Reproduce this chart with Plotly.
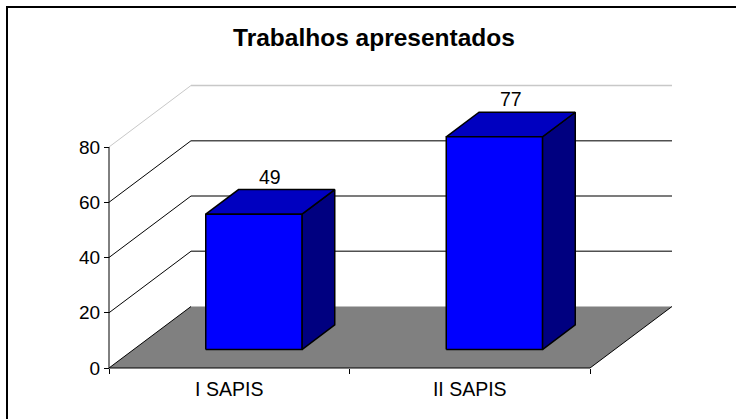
import plotly.graph_objects as go

# ---- data ----
categories = ["I SAPIS", "II SAPIS"]
values = [49, 77]
y_ticks = [0, 20, 40, 60, 80]
title_text = "Trabalhos apresentados"

# ---- style / geometry (not data) ----
W, H = 736, 419
ORIGIN_PX = (109, 368)          # pixel position of (x=0, y=0)
PX_PER_X = 240.5                # pixels per category slot
PX_PER_Y = 221 / 80             # pixels per value unit
DX = 82 / PX_PER_X              # depth offset in x-units (full depth)
DY = 61.5 / PX_PER_Y            # depth offset in value units (full depth)
BAR_HALF = 0.2
Z0, Z1 = 0.3, 0.7
FONT = "Liberation Sans, Arial, sans-serif"
FRONT, TOP, SIDE = "#0000FF", "#0000C0", "#000080"

n = len(categories)
ymax = y_ticks[-1]

x_range = [-ORIGIN_PX[0] / PX_PER_X, (W - ORIGIN_PX[0]) / PX_PER_X]
y_range = [-(H - ORIGIN_PX[1]) / PX_PER_Y, ORIGIN_PX[1] / PX_PER_Y]

fig = go.Figure()
shapes = []

# floor
fig.add_trace(go.Scatter(
    x=[0, n, n + DX, DX, 0], y=[0, 0, DY, DY, 0], mode="lines", fill="toself",
    fillcolor="#808080", line=dict(width=0), hoverinfo="skip", showlegend=False))

# gridlines: side wall diagonals + back wall horizontals
for v in y_ticks:
    col_diag = "#c8c8c8" if v == ymax else "black"
    col_back = "#c8c8c8" if v == ymax else "#505050"
    fig.add_trace(go.Scatter(x=[0, DX], y=[v, v + DY], mode="lines",
                             line=dict(color=col_diag, width=1), hoverinfo="skip", showlegend=False))
    if v > 0:
        fig.add_trace(go.Scatter(x=[DX, n + DX], y=[v + DY, v + DY], mode="lines",
                                 line=dict(color=col_back, width=1.5), hoverinfo="skip", showlegend=False))

# floor right diagonal and axis lines
fig.add_trace(go.Scatter(x=[n, n + DX], y=[0, DY], mode="lines",
                         line=dict(color="black", width=1), hoverinfo="skip", showlegend=False))
fig.add_trace(go.Scatter(x=[0, n], y=[0, 0], mode="lines",
                         line=dict(color="black", width=1), hoverinfo="skip", showlegend=False))
fig.add_trace(go.Scatter(x=[0, 0], y=[0, ymax], mode="lines",
                         line=dict(color="black", width=1), hoverinfo="skip", showlegend=False))

annotations = []
for i, (cat, h) in enumerate(zip(categories, values)):
    c = i + 0.5
    x0, x1 = c - BAR_HALF, c + BAR_HALF
    fx0, fx1 = x0 + Z0 * DX, x1 + Z0 * DX
    bx0, bx1 = x0 + Z1 * DX, x1 + Z1 * DX
    fy, by = Z0 * DY, Z1 * DY
    faces = [
        (SIDE, [fx1, bx1, bx1, fx1, fx1], [fy, by, h + by, h + fy, fy]),
        (TOP, [fx0, fx1, bx1, bx0, fx0], [h + fy, h + fy, h + by, h + by, h + fy]),
        (FRONT, [fx0, fx1, fx1, fx0, fx0], [fy, fy, h + fy, h + fy, fy]),
    ]
    for col, xs, ys in faces:
        fig.add_trace(go.Scatter(x=xs, y=ys, mode="lines", fill="toself", fillcolor=col,
                                 line=dict(color="black", width=1.5), name=cat,
                                 hoverinfo="skip", showlegend=False))
    annotations.append(dict(x=c + 0.5 * DX, y=h + by, xref="x", yref="y", text=str(h),
                            showarrow=False, xanchor="center", yanchor="bottom", yshift=0,
                            font=dict(family=FONT, size=19.5, color="black")))

# frame (top and left edges visible in the window)
shapes.append(dict(type="rect", xref="paper", yref="paper", x0=7 / W, x1=1.05,
                   y0=-0.05, y1=1 - 7 / H, line=dict(color="black", width=2), layer="above"))

fig.update_layout(
    width=W, height=H,
    margin=dict(l=0, r=0, t=0, b=0, pad=0),
    paper_bgcolor="white", plot_bgcolor="white",
    showlegend=False,
    title=dict(text="<b>" + title_text + "</b>", x=374 / W, y=1 - 37.5 / H,
               xref="paper", yref="paper", xanchor="center", yanchor="middle",
               font=dict(family=FONT, size=24.5, color="black")),
    xaxis=dict(range=x_range, domain=[0, 1], anchor="free", position=(H - ORIGIN_PX[1]) / H,
               showgrid=False, zeroline=False, showline=False, automargin=False,
               tickmode="array", tickvals=[i + 0.5 for i in range(n)], ticktext=categories,
               ticks="", ticklabelstandoff=7,
               tickfont=dict(family=FONT, size=19.5, color="black"),
               minor=dict(tickmode="array", tickvals=list(range(n + 1)), ticks="outside",
                          ticklen=5, tickcolor="black", tickwidth=1, showgrid=False),
               fixedrange=True),
    yaxis=dict(range=y_range, domain=[0, 1], anchor="free", position=ORIGIN_PX[0] / W,
               showgrid=False, zeroline=False, showline=False, automargin=False,
               tickmode="array", tickvals=y_ticks, ticks="outside", ticklen=5,
               tickcolor="black", tickwidth=1,
               tickfont=dict(family=FONT, size=19, color="black"),
               fixedrange=True),
    shapes=shapes,
    annotations=annotations,
)

fig.write_html("out.html", config={"displayModeBar": False},
               post_script="document.body.style.margin='0px';document.body.style.overflow='hidden';")
